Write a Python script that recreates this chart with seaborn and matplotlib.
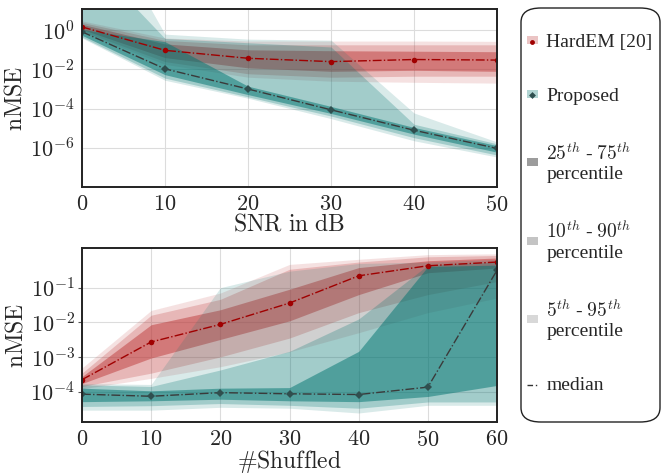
import numpy as np
import pandas as pd
import matplotlib
matplotlib.use('Agg')
import matplotlib.pyplot as plt
import matplotlib.ticker as mticker
from matplotlib.patches import Patch, FancyBboxPatch
from matplotlib.lines import Line2D
import seaborn as sns

# --- SNR sweep (top panel) ---
snr = [0, 10, 20, 30, 40, 50]
hard_med = [1.47, 0.094, 0.037, 0.025, 0.032, 0.030]
hard_q25 = [1.1, 0.04, 0.012, 0.008, 0.009, 0.008]
hard_q75 = [2.0, 0.2, 0.1, 0.09, 0.085, 0.08]
hard_q10 = [0.9, 0.025, 0.006, 0.004, 0.0045, 0.0045]
hard_q90 = [2.5, 0.3, 0.18, 0.18, 0.18, 0.18]
hard_q05 = [0.8, 0.018, 0.004, 0.0025, 0.0022, 0.002]
hard_q95 = [3.0, 0.4, 0.28, 0.28, 0.28, 0.27]

prop_med = [0.83, 0.0107, 1.0e-3, 8.7e-5, 7.9e-6, 9.4e-7]
prop_q25 = [0.55, 0.0054, 5.2e-4, 5.7e-5, 5.0e-6, 6.0e-7]
prop_q75 = [1.1, 0.26, 1.4e-3, 1.3e-4, 1.1e-5, 1.3e-6]
prop_q10 = [0.45, 3.6e-3, 4.0e-4, 4.2e-5, 3.3e-6, 4.3e-7]
prop_q90 = [1e4, 0.38, 0.23, 0.14, 1.6e-5, 1.6e-6]
prop_q05 = [0.4, 2.8e-3, 3.4e-4, 3.1e-5, 2.3e-6, 3.4e-7]
prop_q95 = [2e7, 0.63, 0.35, 0.31, 6e-5, 2e-6]

# --- number of shuffled entries (bottom panel) ---
shuf = [0, 10, 20, 30, 40, 50, 60]
hard_med_b = [2.2e-4, 2.7e-3, 8.7e-3, 0.036, 0.22, 0.43, 0.55]
hard_q25_b = [1.7e-4, 9.3e-4, 3.2e-3, 0.011, 0.063, 0.27, 0.37]
hard_q75_b = [2.7e-4, 8.5e-3, 0.023, 0.09, 0.38, 0.6, 0.72]
hard_q10_b = [1.4e-4, 3.4e-4, 1.0e-3, 3.5e-3, 0.019, 0.063, 0.15]
hard_q90_b = [3.4e-4, 0.016, 0.046, 0.34, 0.55, 0.78, 0.85]
hard_q05_b = [1.2e-4, 2.4e-4, 5.2e-4, 1.4e-3, 5e-3, 0.019, 0.05]
hard_q95_b = [4.8e-4, 0.022, 0.07, 0.47, 0.66, 0.9, 0.95]

prop_med_b = [8.4e-5, 7.3e-5, 9.3e-5, 8.6e-5, 8.2e-5, 1.34e-4, 0.32]
prop_q25_b = [5.1e-5, 5.4e-5, 6.0e-5, 5.4e-5, 5.1e-5, 7.2e-5, 1.5e-4]
prop_q75_b = [1.25e-4, 1.05e-4, 1.25e-4, 1.3e-4, 1.45e-3, 0.41, 0.45]
prop_q10_b = [3.7e-5, 3.9e-5, 4.5e-5, 4.0e-5, 3.3e-5, 5.0e-5, 5.0e-5]
prop_q90_b = [1.56e-4, 1.4e-4, 4.2e-4, 1.45e-3, 0.0125, 0.45, 0.55]
prop_q05_b = [2.9e-5, 2.9e-5, 3.5e-5, 3.3e-5, 2.4e-5, 4.0e-5, 4.0e-5]
prop_q95_b = [1.7e-4, 1.6e-4, 0.1, 0.3, 0.5, 0.55, 0.65]

red = '#be3c3c'
teal = '#007470'

sns.set_style('whitegrid')
plt.rcParams.update({
    'font.family': 'serif',
    'font.serif': ['cmr10'],
    'mathtext.fontset': 'cm',
    'axes.formatter.use_mathtext': True,
    'axes.unicode_minus': False,
})

fig = plt.figure(figsize=(6.61, 4.76), dpi=100)
ax1 = fig.add_axes([0.124, 0.607, 0.628, 0.374])
ax2 = fig.add_axes([0.124, 0.113, 0.628, 0.366])


def bands(ax, x, q05, q10, q25, q75, q90, q95, color):
    ax.fill_between(x, q05, q95, color=color, alpha=0.15, lw=0)
    ax.fill_between(x, q10, q90, color=color, alpha=0.25, lw=0)
    ax.fill_between(x, q25, q75, color=color, alpha=0.5, lw=0)


def medians(ax, x, hmed, pmed):
    df = pd.DataFrame({'x': list(x) * 2, 'nmse': list(hmed) + list(pmed),
                       'method': ['HardEM'] * len(x) + ['Proposed'] * len(x)})
    sns.lineplot(data=df[df.method == 'HardEM'], x='x', y='nmse', ax=ax,
                 color='#a00000', marker='o', markersize=4, markeredgewidth=0,
                 linestyle='-.', linewidth=1, legend=False)
    sns.lineplot(data=df[df.method == 'Proposed'], x='x', y='nmse', ax=ax,
                 color='#3a3a3a', marker='D', markersize=4, markeredgewidth=0,
                 markerfacecolor='#2f4f4f', linestyle='-.', linewidth=1, legend=False)


for ax in (ax1, ax2):
    ax.set_yscale('log')

bands(ax1, snr, hard_q05, hard_q10, hard_q25, hard_q75, hard_q90, hard_q95, red)
bands(ax1, snr, prop_q05, prop_q10, prop_q25, prop_q75, prop_q90, prop_q95, teal)
medians(ax1, snr, hard_med, prop_med)

bands(ax2, shuf, hard_q05_b, hard_q10_b, hard_q25_b, hard_q75_b, hard_q90_b, hard_q95_b, red)
bands(ax2, shuf, prop_q05_b, prop_q10_b, prop_q25_b, prop_q75_b, prop_q90_b, prop_q95_b, teal)
medians(ax2, shuf, hard_med_b, prop_med_b)

ax1.set_xlim(0, 50)
ax1.set_ylim(1e-8, 12)
ax1.set_xticks([0, 10, 20, 30, 40, 50])
ax1.set_yticks([1e-6, 1e-4, 1e-2, 1])
ax1.yaxis.set_minor_locator(mticker.NullLocator())
ax1.set_xlabel(r'$\mathrm{SNR\ in\ dB}$', fontsize=17, labelpad=-1)
ax1.set_ylabel(r'$\mathrm{nMSE}$', fontsize=17, labelpad=2)

ax2.set_xlim(0, 60)
ax2.set_ylim(1.3e-5, 1.4)
ax2.set_xticks([0, 10, 20, 30, 40, 50, 60])
ax2.set_yticks([1e-4, 1e-3, 1e-2, 1e-1])
ax2.yaxis.set_minor_locator(mticker.LogLocator(base=10, subs=np.arange(2, 10)))
ax2.yaxis.set_minor_formatter(mticker.NullFormatter())
ax2.set_xlabel(r'$\#\mathrm{Shuffled}$', fontsize=17, labelpad=-1)
ax2.set_ylabel(r'$\mathrm{nMSE}$', fontsize=17, labelpad=2)
ax2.grid(True, which='minor', axis='y', color='#e2e2e2', lw=0.6)
ax2.tick_params(axis='y', which='both', left=True, length=3, width=0.8, color='#555555')

for ax in (ax1, ax2):
    ax.grid(True, which='major', color='#dcdcdc', lw=0.8)
    ax.set_axisbelow(True)
    ax.tick_params(axis='both', which='major', labelsize=16, pad=2)
    for s in ax.spines.values():
        s.set_color('#222222')
        s.set_linewidth(1.4)

handles = [
    (Patch(facecolor=red, alpha=0.3, lw=0),
     Line2D([], [], marker='o', color='#a00000', ls='', ms=3.5, mew=0)),
    (Patch(facecolor=teal, alpha=0.3, lw=0),
     Line2D([], [], marker='D', color='#2f4f4f', ls='', ms=3.5, mew=0)),
    Patch(facecolor='#9c9c9c', lw=0),
    Patch(facecolor='#c4c4c4', lw=0),
    Patch(facecolor='#d8d8d8', lw=0),
    Line2D([], [], color='#333333', lw=1, dashes=(4, 2, 1, 2)),
]
labels = ['HardEM [20]', 'Proposed',
          '$25^{th}$ - $75^{th}$\npercentile',
          '$10^{th}$ - $90^{th}$\npercentile',
          '$5^{th}$ - $95^{th}$\npercentile',
          'median']
leg = fig.legend(handles, labels, loc='upper left', bbox_to_anchor=(527 / 661, 1 - 34 / 476),
                 prop={'family': 'Liberation Serif', 'size': 14}, frameon=False,
                 labelspacing=1.9, handlelength=0.55, handleheight=0.25,
                 handletextpad=0.45, borderpad=0, borderaxespad=0)

box = FancyBboxPatch((521 / 661, 1 - 422 / 476), (660 - 521) / 661, (422 - 8) / 476,
                     boxstyle='round,pad=0,rounding_size=0.03', transform=fig.transFigure,
                     facecolor='none', edgecolor='#222222', lw=1.0)
fig.patches.append(box)

fig.savefig('out.png', dpi=100)
